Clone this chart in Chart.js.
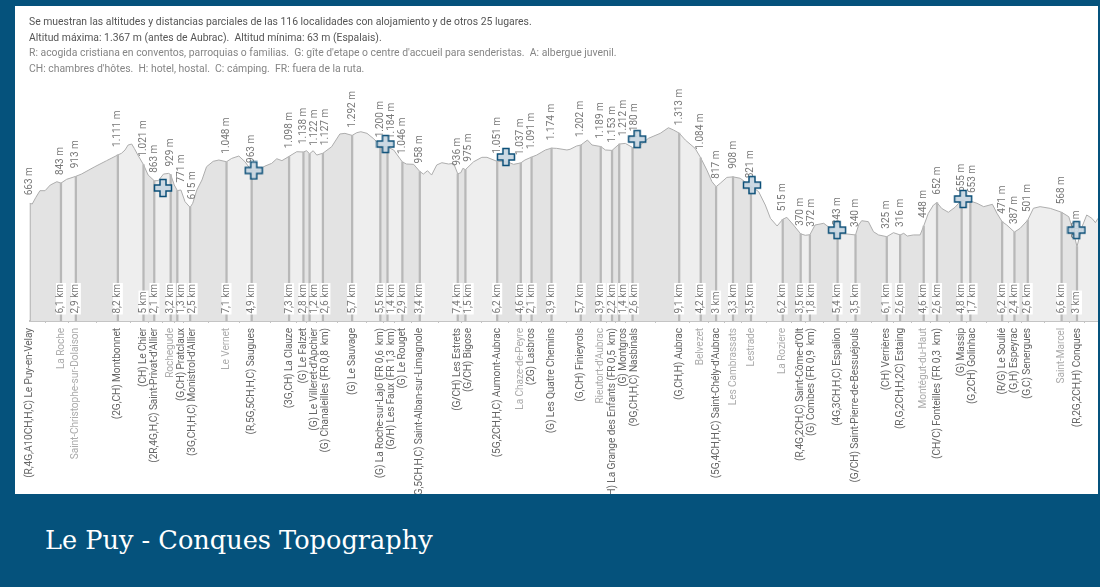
<!DOCTYPE html>
<html>
<head>
<meta charset="utf-8">
<title>Le Puy - Conques Topography</title>
<script src="https://cdn.jsdelivr.net/npm/chart.js@4"></script>
<style>
html, body { margin: 0; padding: 0; }
body { width: 1100px; height: 587px; overflow: hidden; background: #05527c; position: relative; }
#panel { position: absolute; left: 15px; top: 6px; width: 1083px; height: 488px; background: #fff; overflow: hidden; }
#panel canvas { position: absolute; left: 0; top: 0; }
#notes { position: absolute; left: 14px; top: 8px; font: 10.4px/15.6px Roboto, sans-serif; color: #555; z-index: 2; white-space: pre; }
#notes .soft { color: #858585; }
#caption { position: absolute; left: 45px; top: 522px; font: 25.6px/36px "DejaVu Serif", serif; color: #fff; white-space: pre; }
</style>
</head>
<body>
<div id="panel">
  <div id="notes">Se muestran las altitudes y distancias parciales de las 116 localidades con alojamiento y de otros 25 lugares.
Altitud máxima: 1.367 m (antes de Aubrac).  Altitud mínima: 63 m (Espalais).
<span class="soft">R: acogida cristiana en conventos, parroquias o familias.  G: gîte d'etape o centre d'accueil para senderistas.  A: albergue juvenil.
CH: chambres d'hôtes.  H: hotel, hostal.  C: cámping.  FR: fuera de la ruta.</span></div>
  <canvas id="profileChart" width="1083" height="488"></canvas>
</div>
<div id="caption">Le Puy - Conques Topography</div>

<script>
const stopNames = [
    "(R,4G,A10CH,H,C) Le Puy-en-Velay", "La Roche", "Saint-Christophe-sur-Dolaison", "(2G,CH) Montbonnet",
    "(CH) Le Chier", "(2R,4G,H,C) Saint-Privat-d'Allier", "Rochegude", "(G,CH) Pratclaux",
    "(3G,CH,H,C) Monistrol-d'Allier", "Le Vernet", "(R,5G,5CH,H,C) Saugues", "(3G,CH) La Clauze",
    "(G) Le Falzet", "(G) Le Villeret-d'Apchier", "(G) Chanaleilles (FR 0,8  km)", "(G) Le Sauvage",
    "(G) La Roche-sur-Lajo (FR 0,6  km)", "(G/H) Les Faux (FR 1,3  km)", "(G) Le Rouget",
    "(R,5G,5CH,H,C) Saint-Alban-sur-Limagnole", "(G/CH) Les Estrets", "(G/CH) Bigose",
    "(5G,2CH,H,C) Aumont-Aubrac", "La Chaze-de-Peyre", "(2G) Lasbros", "(G) Les Quatre Chemins",
    "(G,CH) Finieyrols", "Rieutort-d'Aubrac", "(G,CH,H) La Grange des Enfants (FR 0,5  km)", "(G) Montgros",
    "(9G,CH,H,C) Nasbinals", "(G,CH,H) Aubrac", "Belvezet", "(5G,4CH,H,C) Saint-Chély-d'Aubrac",
    "Les Cambrassats", "Lestrade", "La Roziere", "(R,4G,2CH,C) Saint-Côme-d'Olt", "(G) Combes (FR 0,9  km)",
    "(4G,3CH,H,C) Espalion", "(G/CH) Saint-Pierre-de-Bessuéjouls", "(CH) Verrières", "(R,G,2CH,H,2C) Estaing",
    "Montégut-du-Haut", "(CH/C) Fonteilles (FR 0,3  km)", "(G) Massip", "(G,2CH) Golinhac", "(R/G) Le Soulié",
    "(G,H) Espeyrac", "(G,C) Senergues", "Saint-Marcel", "(R,2G,2CH,H) Conques"
];
const stopAltitudes = [
    663, 843, 913, 1111, 1021, 863, 929, 771, 615, 1048, 963, 1098, 1138, 1122, 1127, 1292, 1200, 1184, 1046,
    958, 936, 975, 1051, 1037, 1091, 1174, 1202, 1189, 1153, 1212, 1180, 1313, 1084, 817, 908, 821, 515, 370,
    372, 343, 340, 325, 316, 448, 652, 655, 653, 471, 387, 501, 568, 253
];
const legKm = [
    0, 6.1, 2.9, 8.2, 5, 2.1, 3.2, 1.3, 2.5, 7.1, 4.9, 7.3, 2.8, 1.2, 2.6, 5.7, 5.5, 1.4, 2.9, 3.4, 7.4, 1.5,
    6.2, 4.6, 2.1, 3.9, 5.7, 3.9, 2.2, 1.4, 2.6, 9.1, 4.2, 3, 3.3, 3.5, 6.2, 3.5, 1.8, 5.4, 3.5, 6.1, 2.6,
    4.6, 2.6, 4.8, 1.7, 6.2, 2.4, 2.6, 6.6, 3
];
const profileKm = [
    0, 0.5, 1.2, 2, 3, 4, 5.3, 6.1, 7.2, 9, 10.1, 12.7, 15, 17.2, 17.9, 18.6, 19.2, 19.9, 20.4, 21.1, 22.2, 23.1,
    24.3, 25.1, 26.1, 27.1, 27.5, 28.2, 28.8, 29.5, 30.3, 31.3, 31.8, 32.6, 33.6, 34.5, 35.8, 36.9, 38.4, 39.4,
    40.8, 42, 43.3, 44.3, 45.9, 47.2, 48.2, 49.2, 50.6, 52.1, 53.4, 54, 54.6, 55.3, 56, 57.2, 58.9, 60.5, 61.5,
    62.9, 63.8, 64.6, 65.8, 67, 68.4, 69.8, 71, 72.7, 73.5, 74.9, 76.1, 76.8, 77.6, 78.4, 79.4, 80.4, 81.7, 82.7,
    83.5, 84.1, 84.5, 85, 86.6, 88.2, 89.2, 91.2, 93.1, 94.4, 95.8, 96.6, 97.9, 98.9, 100.6, 101.8, 102.8, 104.8,
    105.4, 106.7, 107.5, 108.1, 108.8, 109.7, 111.4, 112.3, 113.6, 115, 116.2, 117.6, 119.1, 120.7, 123, 124.6,
    125.6, 126.7, 127.9, 129.8, 130.9, 132.1, 133.1, 133.9, 134.7, 136, 137.2, 138.6, 140.7, 142.2, 143.5, 144.5,
    145.8, 146.9, 147.7, 149, 150.4, 151.3, 152.2, 153.2, 154.9, 156.2, 157.6, 159.4, 161.1, 161.7, 162.3, 163.6,
    164.6, 165.6, 167.2, 168.5, 169.8, 170.5, 171.2, 172.4, 173.7, 174.4, 175.3, 176.3, 177, 177.9, 179.2, 180.5,
    181.8, 182.8, 183.5, 184.8, 186.1, 187.8, 188.7, 189.7, 190.6, 192.1, 193.2, 194.7, 195.8, 197.1, 199.1, 201.3,
    202.7, 203.6, 204.3, 205.3, 206.2, 207.2, 207.9, 208.4
];
const profileAlt = [
    663, 657, 718, 780, 780, 832, 863, 850, 885, 913, 934, 1002, 1058, 1111, 1126, 1157, 1203, 1212, 1172, 1110, 1021, 925,
    872, 873, 934, 940, 929, 833, 781, 786, 678, 625, 663, 786, 879, 1002, 1052, 1064, 1048, 1079,
    1101, 1048, 963, 965, 1008, 1033, 1076, 1058, 1098, 1141, 1138, 1150, 1122, 1150, 1110, 1127, 1187, 1305, 1311,
    1292, 1317, 1326, 1311, 1265, 1200, 1184, 1157, 1046, 1027, 1024, 958, 934, 965, 925, 1018, 1039, 1027, 1033,
    936, 947, 987, 975, 1048, 1089, 1089, 1051, 1048, 1024, 1037, 1064, 1091, 1110, 1157, 1174, 1172, 1157,
    1163, 1194, 1202, 1224, 1249, 1203, 1189, 1157, 1153, 1212, 1218, 1180, 1203, 1265, 1311, 1363,
    1342, 1313, 1249, 1172, 1084, 971, 863, 817, 848, 903, 908, 895, 821, 771, 647, 524,
    453, 515, 533, 462, 380, 367, 372, 462, 478, 431, 385, 379, 370, 462, 502, 493,
    400, 370, 354, 391, 370, 385, 360, 370, 370, 453, 570, 647, 669, 616, 580, 626,
    694, 678, 684, 663, 632, 654, 570, 493, 462, 397, 431, 508, 617, 632, 616, 580,
    539, 400, 262, 447, 555, 524, 484, 524
];
const crossKm = [26, 43.7, 69.4, 92.9, 118.5, 140.9, 157.5, 182.1, 204.2];
const crossAlt = [805, 967, 1212, 1092, 1258, 832, 415, 703, 415];

let running = 0;
const stopKm = legKm.map(function (leg) {
    running = Math.round((running + leg) * 10) / 10;
    return running;
});

function profileAt(km) {
    let best = 0;
    profileKm.forEach(function (k, i) {
        if (Math.abs(k - km) < Math.abs(profileKm[best] - km)) best = i;
    });
    return profileAlt[best];
}

function bandColor(km) {
    let n = 0;
    while (n < stopKm.length - 1 && stopKm[n + 1] <= km + 0.01) n++;
    return n % 2 === 0 ? '#e3e3e3' : '#eeeeee';
}

function formatAlt(m) {
    const s = String(m);
    return s.length > 3 ? s.slice(0, -3) + '.' + s.slice(-3) + ' m' : s + ' m';
}

function makeCross() {
    const c = document.createElement('canvas');
    c.width = 20;
    c.height = 20;
    const g = c.getContext('2d');
    const a = 1.5, b = 7, d = 13, e = 18.5;
    g.beginPath();
    g.moveTo(b, a); g.lineTo(d, a); g.lineTo(d, b); g.lineTo(e, b); g.lineTo(e, d); g.lineTo(d, d);
    g.lineTo(d, e); g.lineTo(b, e); g.lineTo(b, d); g.lineTo(a, d); g.lineTo(a, b); g.lineTo(b, b);
    g.closePath();
    g.fillStyle = 'rgba(200,214,225,0.92)';
    g.fill();
    g.lineWidth = 1.5;
    g.strokeStyle = '#0b4f78';
    g.stroke();
    return c;
}

function rotatedText(ctx, txt, px, py, align, color) {
    ctx.save();
    ctx.translate(px, py);
    ctx.rotate(-Math.PI / 2);
    ctx.textAlign = align;
    ctx.fillStyle = color;
    ctx.fillText(txt, 0, 0);
    ctx.restore();
}

// close stops push their texts to the right so they do not overlap, the drop lines stay put
function labelPositions(x) {
    const out = [];
    stopKm.forEach(function (km, i) {
        const px = x.getPixelForValue(km);
        out.push(i > 0 && px < out[i - 1] + 11 ? out[i - 1] + 11 : px);
    });
    return out;
}

// altitude and distance texts go under the crosses, over the drop lines
const stopLabels = {
    id: 'stopLabels',
    beforeDatasetDraw(chart, args) {
        if (args.index !== 0) return;
        const ctx = chart.ctx;
        const y = chart.scales.y;
        const bottom = chart.chartArea.bottom;
        const xs = labelPositions(chart.scales.x);
        ctx.save();
        ctx.textBaseline = 'middle';
        stopKm.forEach(function (km, i) {
            ctx.font = '10px Roboto, sans-serif';
            ctx.letterSpacing = '0px';
            rotatedText(ctx, formatAlt(stopAltitudes[i]), xs[i], y.getPixelForValue(profileAt(km)) - 8, 'left', '#777');
            if (i > 0) {
                const txt = String(legKm[i]).replace('.', ',') + ' km';
                const w = ctx.measureText(txt).width;
                ctx.fillStyle = '#fff';
                ctx.fillRect(xs[i] - 5, bottom - 7.5 - w - 1, 10, w + 2);
                rotatedText(ctx, txt, xs[i], bottom - 7.5, 'left', '#777');
            }
            ctx.font = '10.2px Roboto, sans-serif';
            ctx.letterSpacing = '-0.12px';
            const soft = stopNames[i].charAt(0) !== '(';
            rotatedText(ctx, stopNames[i], xs[i], bottom + 7, 'right', soft ? '#ababab' : '#666');
        });
        ctx.restore();
    }
};

new Chart(document.getElementById('profileChart'), {
    type: 'line',
    plugins: [stopLabels],
    data: {
        datasets: [{
            label: 'Cruces',
            data: crossKm.map(function (k, i) { return { x: k, y: crossAlt[i] }; }),
            order: 0,
            clip: false,
            showLine: false,
            pointStyle: makeCross(),
            pointRadius: 10
        }, {
            type: 'bar',
            label: 'Localidades',
            data: stopKm.map(function (k) { return { x: k, y: [-427, profileAt(k)] }; }),
            order: 1,
            backgroundColor: '#b8b8b8',
            barThickness: 1.6
        }, {
            label: 'Altitud',
            data: profileKm.map(function (k, i) { return { x: k, y: profileAlt[i] }; }),
            order: 2,
            borderColor: '#adadad',
            borderWidth: 1,
            pointRadius: 0,
            tension: 0,
            fill: 'start',
            backgroundColor: '#e3e3e3',
            segment: {
                backgroundColor: function (c) { return bandColor(c.p0.parsed.x); }
            }
        }]
    },
    options: {
        responsive: false,
        animation: false,
        events: [],
        layout: { autoPadding: false, padding: { left: 14.7, top: 82, right: 0, bottom: 0 } },
        plugins: { legend: { display: false }, tooltip: { enabled: false } },
        scales: {
            x: {
                type: 'linear',
                offset: false,
                min: 0,
                max: 208.4,
                afterBuildTicks: function (axis) {
                    axis.ticks = stopKm.map(function (k) { return { value: k }; });
                },
                afterFit: function (axis) {
                    axis.height = 173;
                    axis.paddingLeft = 0;
                    axis.paddingRight = 0;
                },
                border: { color: '#c4c4c4', width: 2 },
                grid: { drawOnChartArea: false, color: '#c4c4c4', tickLength: 2 },
                ticks: { display: false, autoSkip: false }
            },
            y: { display: false, min: -427, max: 1731 }
        }
    }
});
</script>
</body>
</html>
